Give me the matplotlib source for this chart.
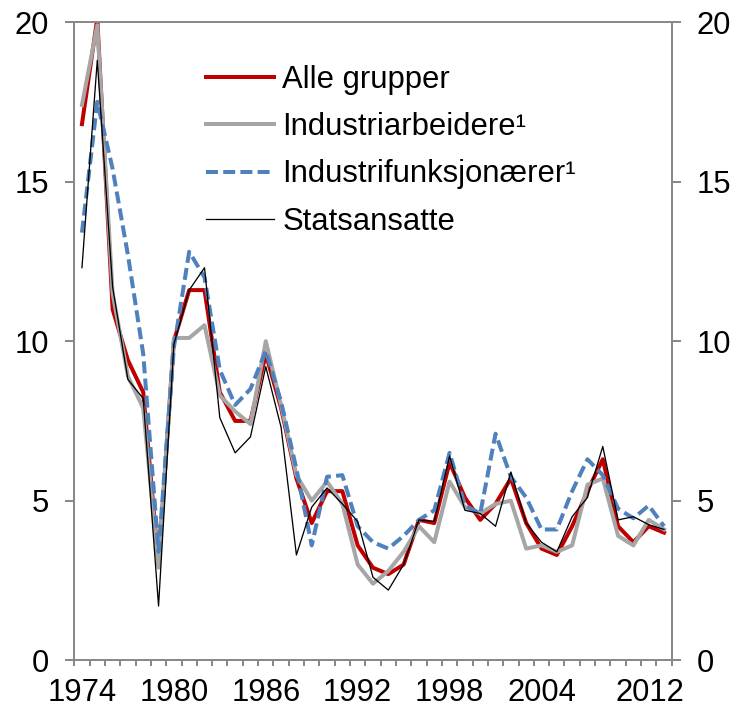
import matplotlib
matplotlib.use("Agg")
import matplotlib.pyplot as plt
from matplotlib.transforms import ScaledTranslation

plt.rcParams["font.family"] = ["Liberation Sans", "DejaVu Sans"]

# Data, 1974-2012 (percent)
years = list(range(1974, 2013))
alle = [16.8, 20.1, 11.0, 9.4, 8.4, 3.0, 10.0, 11.6, 11.6, 8.4,
        7.5, 7.5, 9.6, 7.9, 5.7, 4.3, 5.3, 5.3, 3.6, 2.9,
        2.7, 3.0, 4.4, 4.3, 6.2, 5.1, 4.4, 4.9, 5.7, 4.3,
        3.5, 3.3, 4.2, 5.3, 6.3, 4.2, 3.7, 4.2, 4.0]
industriarb = [17.4, 19.9, 11.5, 8.9, 7.9, 2.9, 10.1, 10.1, 10.5, 8.3,
               7.8, 7.4, 10.0, 8.0, 5.8, 5.0, 5.6, 4.9, 3.0, 2.4,
               2.8, 3.4, 4.2, 3.7, 5.6, 4.8, 4.6, 4.9, 5.0, 3.5,
               3.6, 3.4, 3.6, 5.5, 5.7, 3.9, 3.6, 4.4, 4.1]
industrifunk = [13.4, 17.5, 15.4, 12.7, 9.6, 3.4, 9.8, 12.8, 12.0, 9.1,
                8.0, 8.5, 9.7, 8.1, 6.0, 3.6, 5.75, 5.8, 4.2, 3.7,
                3.5, 3.9, 4.4, 4.7, 6.5, 4.85, 4.6, 7.1, 5.75, 5.1,
                4.1, 4.1, 5.3, 6.3, 5.8, 4.75, 4.45, 4.85, 4.2]
statsansatte = [12.3, 18.8, 11.7, 8.8, 8.2, 1.7, 9.9, 11.6, 12.3, 7.6,
                6.5, 7.0, 9.2, 7.3, 3.3, 4.8, 5.4, 4.9, 4.35, 2.6,
                2.2, 3.0, 4.4, 4.35, 6.4, 4.7, 4.6, 4.2, 5.9, 4.3,
                3.7, 3.4, 4.5, 5.1, 6.7, 4.4, 4.5, 4.25, 4.1]

xtick_years = [1974, 1980, 1986, 1992, 1998, 2004, 2012]
yticks = [0, 5, 10, 15, 20]

fig = plt.figure(figsize=(737 / 72, 714 / 72), dpi=72)
ax = fig.add_axes([74.3 / 737, 1 - 660.3 / 714, 597.4 / 737, 638.3 / 714])

ax.plot(years, alle, color="#C00000", lw=4, label="Alle grupper")
ax.plot(years, industriarb, color="#A6A6A6", lw=4, label="Industriarbeidere¹")
ax.plot(years, industrifunk, color="#4F81BD", lw=4, dashes=(3, 1.3),
        label="Industrifunksjonærer¹")
ax.plot(years, statsansatte, color="black", lw=1.3, label="Statsansatte")

ax.set_xlim(years[0] - 0.5, years[-1] + 0.5)
ax.set_ylim(0, 20)

spine_col = "#898989"
for s in ax.spines.values():
    s.set_color(spine_col)
    s.set_linewidth(2)

ax.set_yticks(yticks)
ax.tick_params(axis="y", which="major", direction="out", length=9, width=2,
               color=spine_col, labelsize=31, pad=16,
               left=True, right=True, labelleft=True, labelright=True)

ax.set_xticks(xtick_years)
ax.set_xticks([y - 0.5 for y in years] + [years[-1] + 0.5], minor=True)
ax.tick_params(axis="x", which="major", length=0, labelsize=31, pad=18)
ax.tick_params(axis="x", which="minor", direction="out", length=6, width=2,
               color=spine_col)

# last year label sits a bit left in the original
last = ax.get_xticklabels()[-1]
last.set_transform(last.get_transform() + ScaledTranslation(-14 / 72, 0, fig.dpi_scale_trans))

ax.legend(loc="upper left", bbox_to_anchor=(0.2205, 0.933), frameon=False,
          fontsize=31, handlelength=2.2, handletextpad=0.26,
          labelspacing=0.56, borderpad=0, borderaxespad=0)

fig.savefig("out.png", dpi=72)
